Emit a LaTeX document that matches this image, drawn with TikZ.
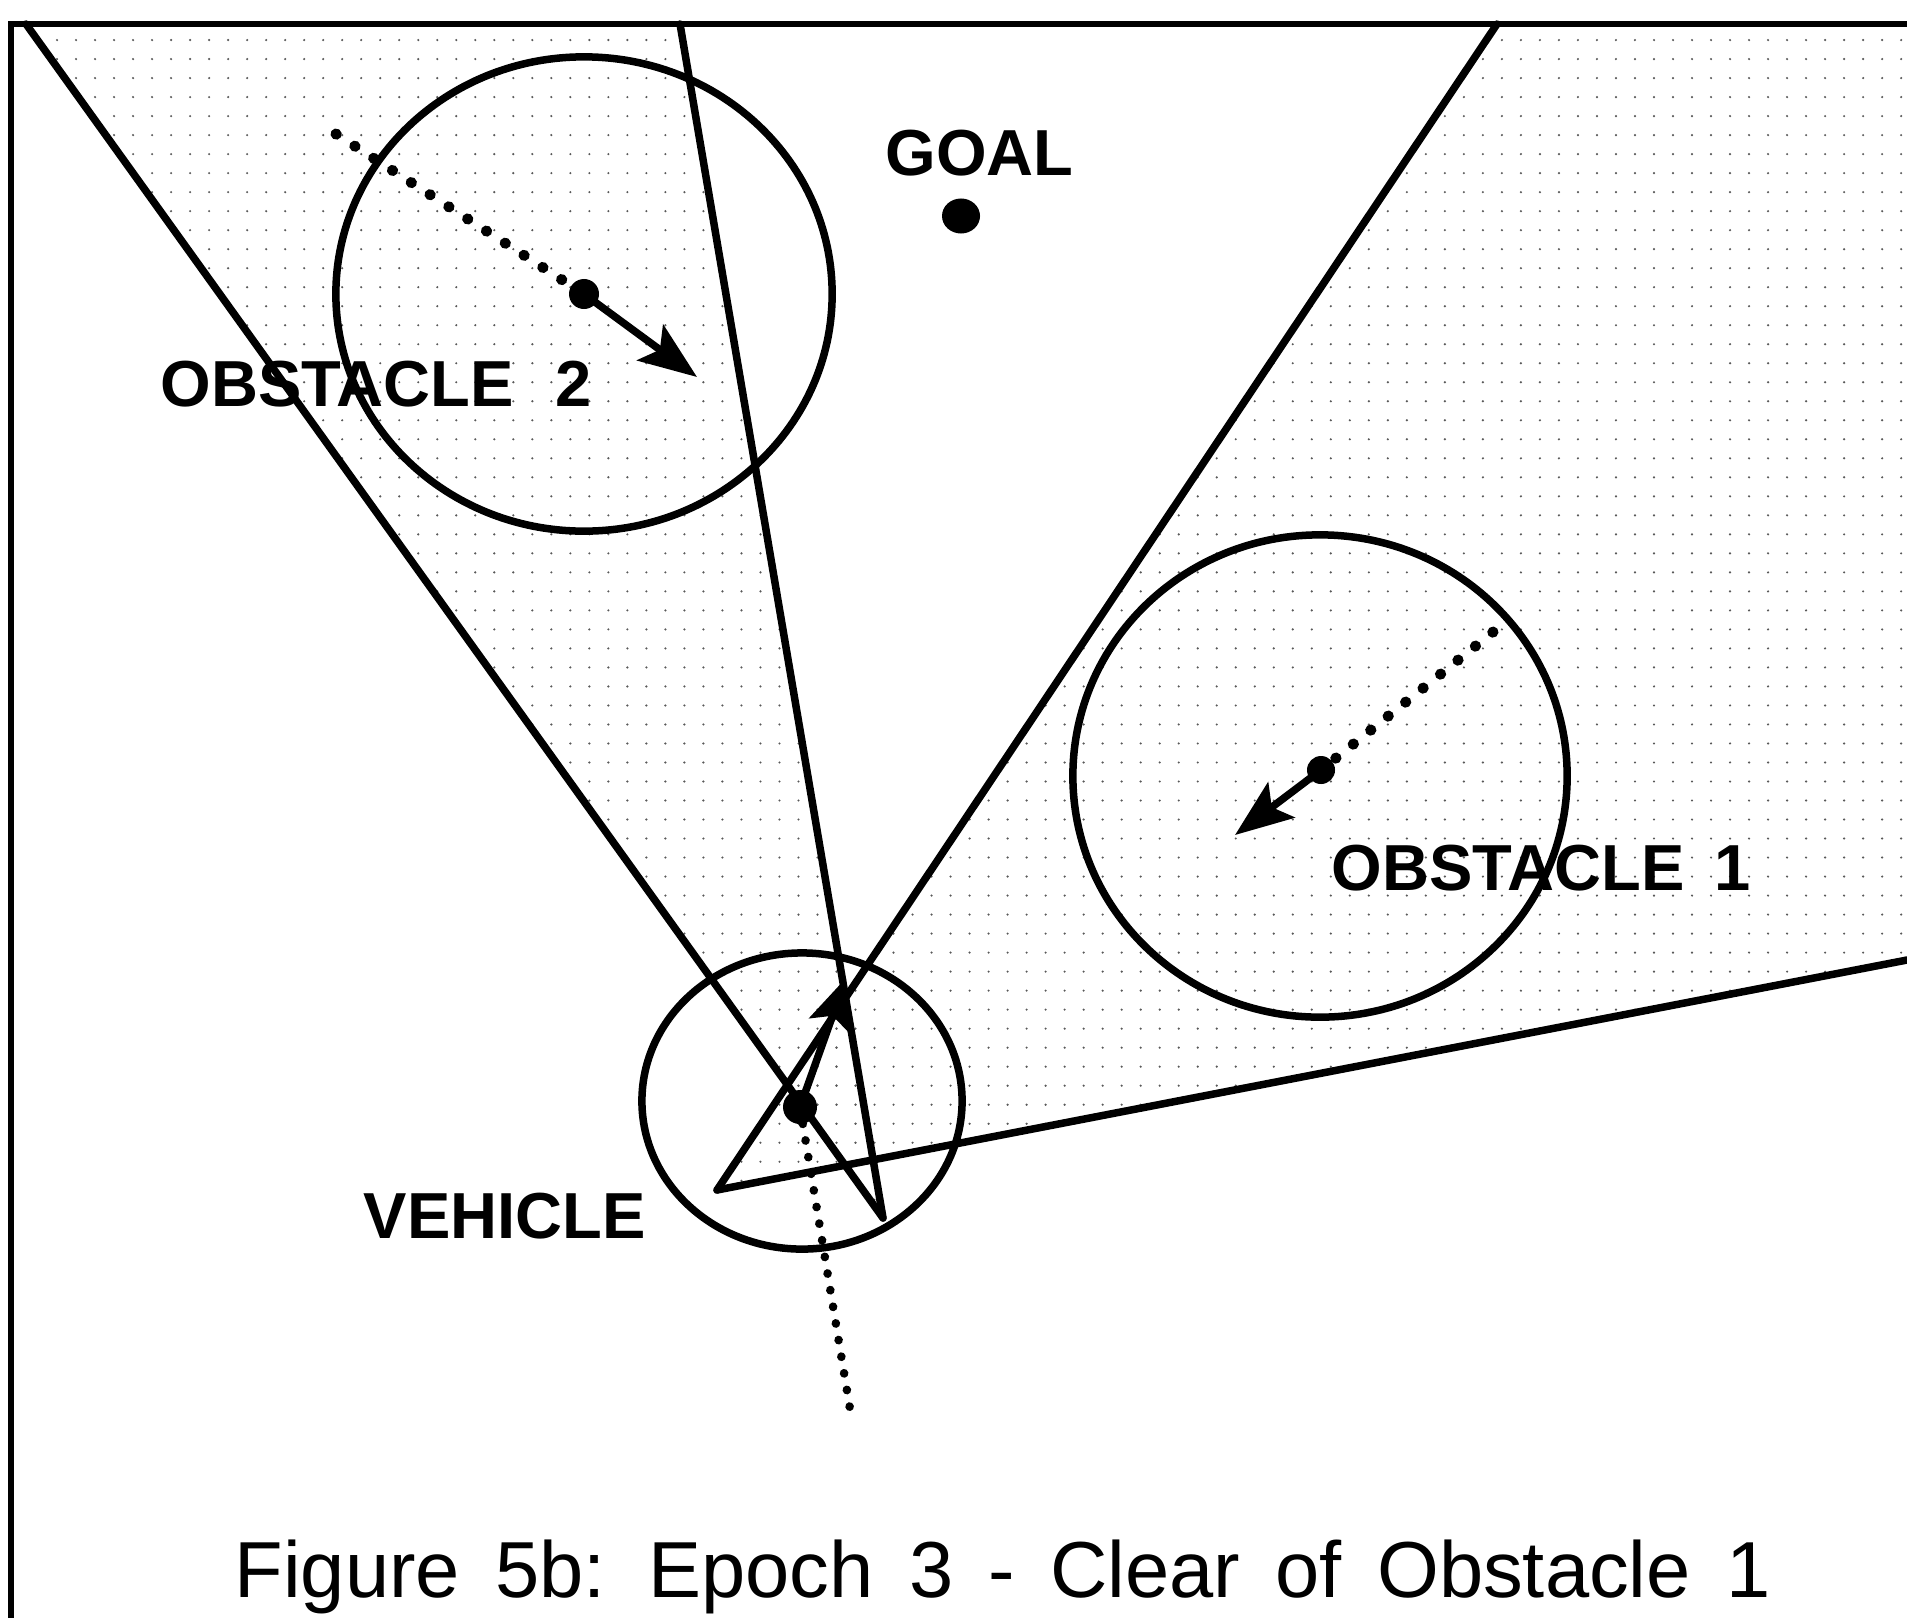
\documentclass[tikz,border=0pt]{standalone}
\usepackage{fontspec}
\setmainfont{Liberation Sans}
\newfontfamily\capfont[WordSpace=1.6]{Liberation Sans}
\usetikzlibrary{arrows.meta,patterns.meta}
\begin{document}
\begin{tikzpicture}[x=0.01cm,y=-0.01cm,
  bold line/.style={line width=0.075cm, line join=round, line cap=round},
  frame line/.style={line width=0.065cm},
  dotted traj/.style={line width=0.11cm, line cap=round, dash pattern=on 0.1pt off 0.22cm},
  dotted veh/.style={line width=0.085cm, line cap=round, dash pattern=on 0.1pt off 0.165cm},
  vel arrow/.style={line width=0.075cm, -{Stealth[length=0.58cm,width=0.44cm,inset=0.12cm]}},
  stipple/.style={pattern={Dots[radius=0.012cm,distance=0.19cm]}, pattern color=black!65},
  label/.style={inner sep=0pt, anchor=base west, font=\bfseries\fontsize{18.5}{20}\selectfont},
  centre dot/.style={fill=black}
]
\useasboundingbox (0,0) rectangle (1907,1618);
\fill[white] (0,0) rectangle (1907,1618);

% key points
\coordinate (TL) at (11,24);
\coordinate (TR) at (1907,24);
\coordinate (BL) at (11,1618);
\coordinate (Atop) at (26,24);
\coordinate (Btop) at (680,24);
\coordinate (Ctop) at (1497,24);
\coordinate (Dend) at (1907,960);
\coordinate (apexAB) at (883,1218);
\coordinate (apexCD) at (717,1190);

% shaded cones
\fill[stipple] (apexAB) -- (Atop) -- (Btop) -- cycle;
\fill[stipple] (apexCD) -- (Ctop) -- (TR) -- (Dend) -- cycle;

% frame
\draw[frame line] (TR) -- (TL) -- (BL);

% cone lines
\draw[bold line] (Atop) -- (apexAB);
\draw[bold line] (Btop) -- (apexAB);
\draw[bold line] (Ctop) -- (apexCD);
\draw[bold line] (apexCD) -- (Dend);

% obstacle 2
\coordinate (o2) at (584,294);
\coordinate (o2tail) at (336,134);
\coordinate (o2tip) at (697,377);
\draw[bold line] (o2) ellipse [x radius=2.48cm, y radius=2.37cm];
\draw[dotted traj] (o2tail) -- (o2);
\draw[vel arrow] (o2) -- (o2tip);
\fill[centre dot] (o2) circle [radius=0.15cm];

% obstacle 1
\coordinate (o1) at (1320,776);
\coordinate (o1dot) at (1321,770);
\coordinate (o1tail) at (1493,632);
\coordinate (o1tip) at (1235,835);
\draw[bold line] (o1) ellipse [x radius=2.47cm, y radius=2.41cm];
\draw[dotted traj] (o1tail) -- (o1dot);
\draw[vel arrow] (o1dot) -- (o1tip);
\fill[centre dot] (o1dot) circle [radius=0.14cm];

% vehicle
\coordinate (vc) at (802,1101);
\coordinate (vdot) at (800,1107);
\coordinate (vtail) at (851,1415);
\coordinate (vtip) at (846,978);
\draw[bold line] (vc) ellipse [x radius=1.60cm, y radius=1.48cm];
\draw[dotted veh] (vdot) -- (vtail);
\draw[vel arrow, -{Stealth[length=0.5cm,width=0.42cm,inset=0.1cm]}] (vdot) -- (vtip);
\fill[centre dot] (vdot) circle [radius=0.17cm];

% goal
\coordinate (goal) at (961,216);
\fill[centre dot] (goal) ellipse [x radius=0.19cm, y radius=0.175cm];

% labels
\node[label] (goallab) at (885,175) {GOAL};
\node[label] (o2lab) at (160,406) {OBSTACLE\hspace{0.42cm}2};
\node[label] (o1lab) at (1331,890) {OBSTACLE\hspace{0.3cm}1};
\node[label] (vehlab) at (363,1238) {VEHICLE};

% caption
\node[inner sep=0pt, anchor=base west, font=\capfont\fontsize{22.6}{26}\selectfont] (cap) at (234,1597) {Figure 5b: Epoch 3 - Clear of Obstacle 1};
\end{tikzpicture}
\end{document}
